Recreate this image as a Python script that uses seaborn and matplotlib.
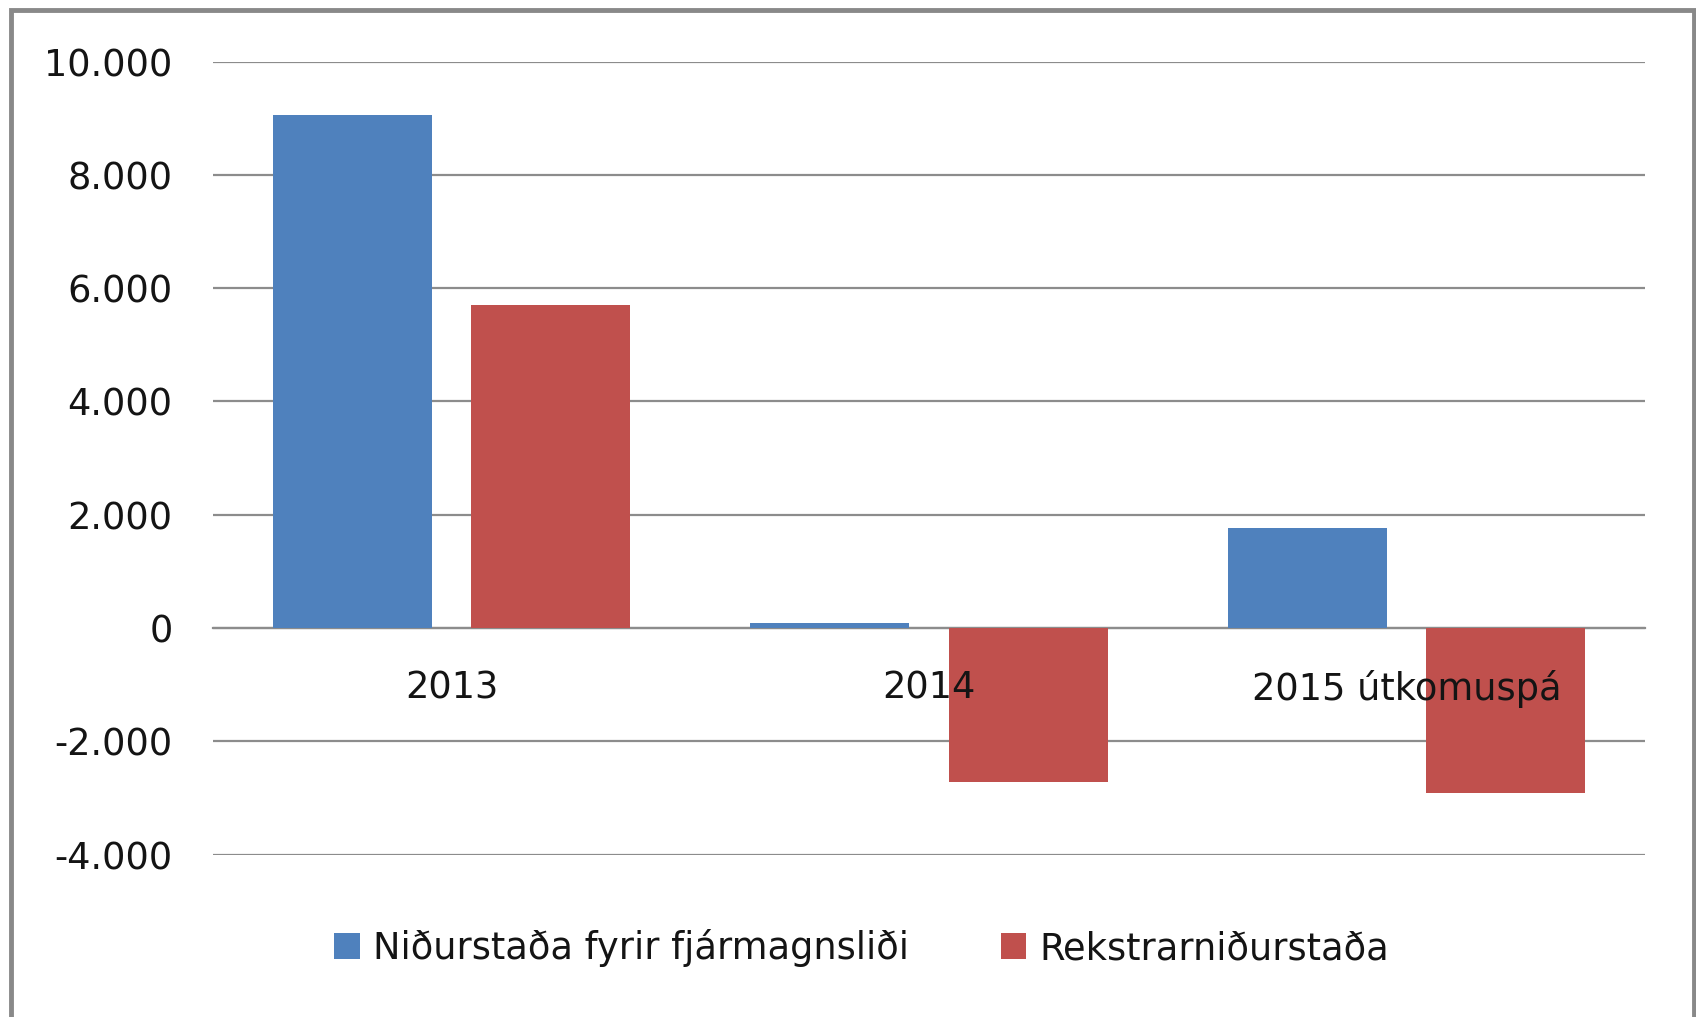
import matplotlib
matplotlib.use("Agg")
import matplotlib.pyplot as plt
import matplotlib.ticker as mticker
from matplotlib.patches import Rectangle
import seaborn as sns
import pandas as pd

categories = ["2013", "2014", "2015 útkomuspá"]
series_names = ["Niðurstaða fyrir fjármagnsliði", "Rekstrarniðurstaða"]
niðurstaða_values = [9050, 90, 1760]
rekstrar_values = [5700, -2720, -2920]
y_ticks = [-4000, -2000, 0, 2000, 4000, 6000, 8000, 10000]
colors = ["#4F81BD", "#C0504D"]

df = pd.DataFrame({
    "category": categories * 2,
    "series": [series_names[0]] * 3 + [series_names[1]] * 3,
    "value": niðurstaða_values + rekstrar_values,
})

sns.set_theme(style="white")
plt.rcParams["font.family"] = ["DejaVu Sans"]

W, H = 1696, 1017
fig = plt.figure(figsize=(W / 100, H / 100), dpi=100)
ax = fig.add_axes([213 / W, 1 - 854.5 / H, (1645 - 213) / W, (854.5 - 61.6) / H])

sns.barplot(data=df, x="category", y="value", hue="series", order=categories,
            hue_order=series_names, palette=colors, width=0.83, gap=0.197,
            saturation=1, errorbar=None, ax=ax, legend=True,
            linewidth=0, edgecolor="none", zorder=2)

ax.set_ylim(-4000, 10000)
ax.set_xlim(-0.5, 2.5)
ax.set_yticks(y_ticks)
ax.yaxis.set_major_formatter(mticker.FuncFormatter(
    lambda v, p: f"{int(round(v)):,}".replace(",", ".")))
ax.grid(axis="y", color="#8C8C8C", linewidth=1.6)
ax.grid(axis="x", visible=False)
ax.set_axisbelow(True)
ax.xaxis.set_zorder(5)
for s in ["left", "right", "top"]:
    ax.spines[s].set_visible(False)
ax.spines["bottom"].set_position(("data", 0))
ax.spines["bottom"].set_color("#8C8C8C")
ax.spines["bottom"].set_linewidth(1.6)
ax.spines["bottom"].set_zorder(0.5)
ax.set_xlabel("")
ax.set_ylabel("")
ax.tick_params(axis="y", length=0, pad=29, labelsize=26.5, labelcolor="#141414")
ax.tick_params(axis="x", length=0, pad=30, labelsize=26.5, labelcolor="#141414")

handles, labels = ax.get_legend_handles_labels()
ax.get_legend().remove()
fig.legend(handles, labels, loc="center", bbox_to_anchor=(0.508, 1 - 948 / H),
           ncol=2, frameon=False, fontsize=26.5, handlelength=0.7, handleheight=0.7,
           handletextpad=0.35, columnspacing=2.5, labelcolor="#141414")

fig.patches.append(Rectangle((11 / W, -0.02), (1694 - 11) / W, 1.02 - 9.5 / H,
                             transform=fig.transFigure, fill=False,
                             edgecolor="#898989", linewidth=3.5))

fig.savefig("out.png", dpi=100)
